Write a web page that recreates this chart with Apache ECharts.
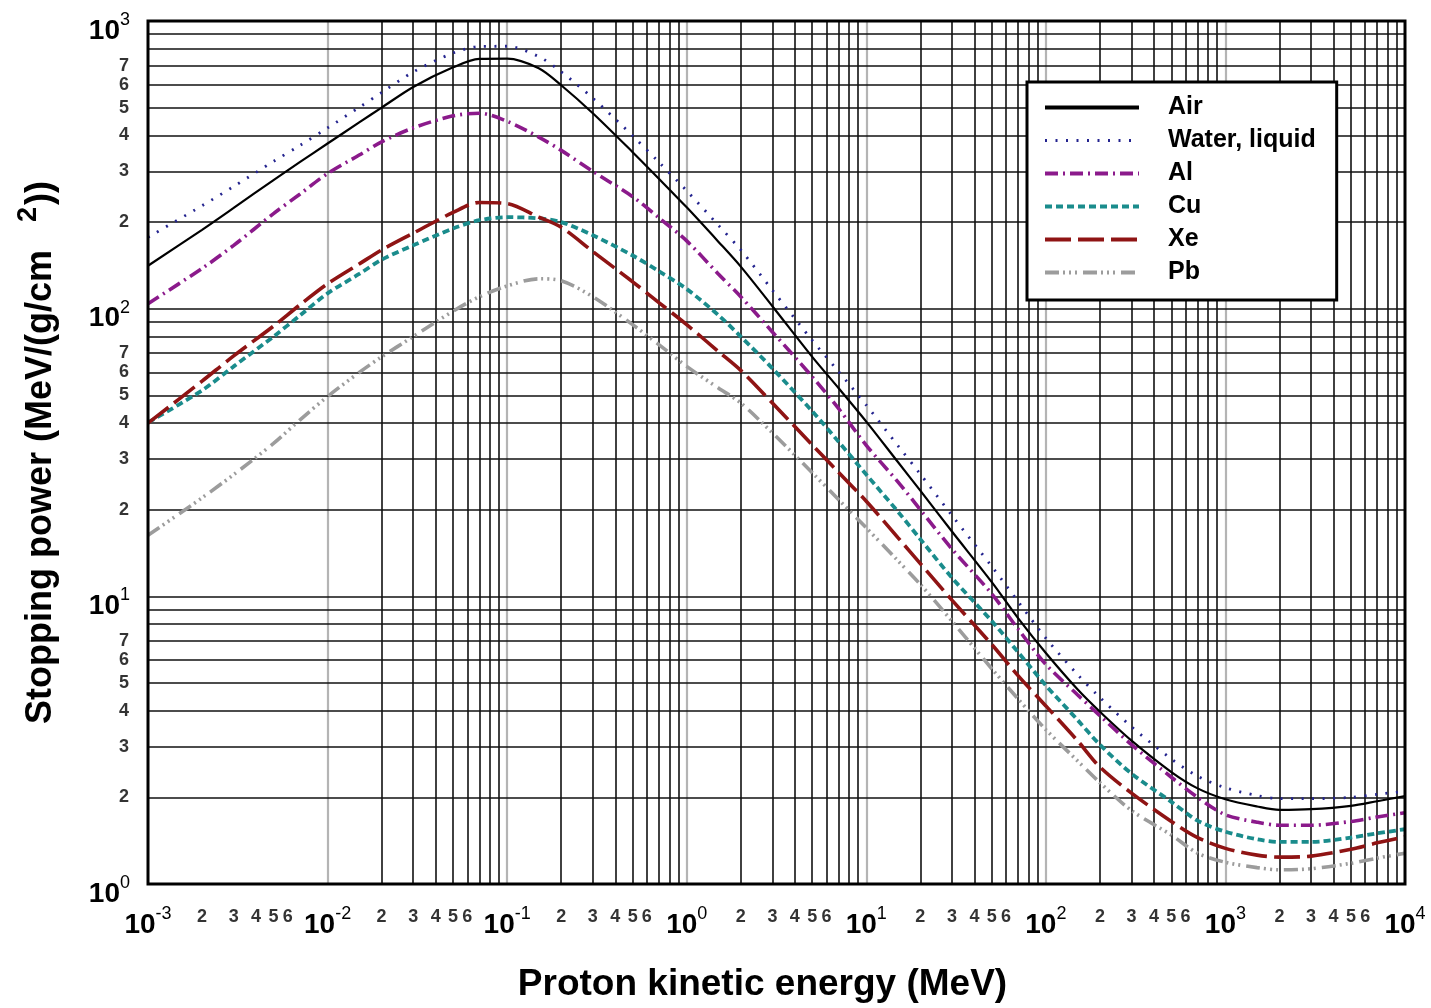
<!DOCTYPE html>
<html><head><meta charset="utf-8">
<script src="https://cdn.jsdelivr.net/npm/echarts@6/dist/echarts.min.js"></script>
<style>html,body{margin:0;padding:0;background:#fff}#c{width:1431px;height:1008px}</style>
</head><body><div id="c"></div>
<script>
// Proton kinetic energy (MeV)
const energies = [0.001, 0.002, 0.003, 0.005, 0.007, 0.01, 0.015, 0.02, 0.03, 0.05, 0.07, 0.1, 0.15, 0.2, 0.3, 0.5, 0.7, 1, 1.5, 2, 3, 5, 7, 10, 15, 20, 30, 50, 70, 100, 150, 200, 300, 500, 700, 1000, 1500, 2000, 3000, 5000, 7000, 10000];
// Stopping power (MeV/(g/cm2))
const air   = [141, 188, 224, 280, 323, 375, 444, 500, 590, 690, 738, 740, 685, 598, 478, 350, 283, 225, 171, 140, 102, 68, 53, 40.5, 29.3, 23.3, 16.8, 11.2, 8.4, 6.35, 4.75, 3.97, 3.15, 2.45, 2.15, 1.97, 1.86, 1.81, 1.82, 1.87, 1.94, 2.02];
const water = [177, 228, 266, 325, 369, 425, 501, 564, 665, 774, 815, 817, 752, 666, 539, 399, 323, 257, 195, 160, 116, 77.6, 60.5, 46.2, 33.4, 26.6, 19.1, 12.7, 9.6, 7.15, 5.35, 4.45, 3.52, 2.72, 2.37, 2.16, 2.03, 1.98, 1.98, 2.0, 2.05, 2.1];
const al    = [104, 138, 166, 214, 250, 295, 342, 380, 425, 468, 478, 448, 395, 355, 300, 245, 207, 172, 132, 110, 83, 58, 45, 33.5, 25, 20, 14.6, 10.2, 7.7, 5.8, 4.55, 3.85, 3.05, 2.35, 2.0, 1.74, 1.64, 1.60, 1.60, 1.65, 1.71, 1.77];
const cu    = [40.2, 52, 63, 80, 94.6, 113, 132, 148, 166, 190, 203, 208, 206, 200, 180, 153, 135, 117, 95, 80, 62, 44, 34.5, 26.5, 19.7, 15.8, 11.6, 8.2, 6.4, 4.9, 3.72, 3.05, 2.42, 1.93, 1.66, 1.52, 1.43, 1.40, 1.40, 1.45, 1.50, 1.55];
const xe    = [40, 56, 68.5, 87, 103, 122, 143, 160, 183, 216, 234, 232, 208, 192, 158, 124, 105, 88, 71, 61, 47, 33.6, 27, 21.4, 16, 13, 9.7, 6.8, 5.3, 4.16, 3.15, 2.55, 2.07, 1.65, 1.45, 1.33, 1.26, 1.24, 1.25, 1.32, 1.39, 1.46];
const pb    = [16.3, 22, 26.5, 34, 41, 49.5, 60, 68, 80, 98, 110, 120, 127, 125, 110, 88, 75, 63, 53, 47, 37, 26.9, 21.7, 17.3, 13.3, 11, 8.2, 5.6, 4.4, 3.44, 2.68, 2.25, 1.8, 1.48, 1.28, 1.19, 1.14, 1.12, 1.13, 1.18, 1.23, 1.28];

const seriesNames = ['Air', 'Water, liquid', 'Al', 'Cu', 'Xe', 'Pb'];

// tick / grid definitions
const xDecades = [-3, -2, -1, 0, 1, 2, 3, 4];
const yDecades = [0, 1, 2, 3];
const xMinorDigits = [2, 3, 4, 5, 6];
const yMinorDigits = [2, 3, 4, 5, 6, 7];
const gridDigits = [2, 3, 4, 5, 6, 7, 8, 9];

const FONT = "'Liberation Sans', Arial, Helvetica, sans-serif";

const vLines = [];
xDecades.slice(0, -1).forEach(k => gridDigits.forEach(m => vLines.push({ xAxis: m * Math.pow(10, k) })));
xDecades.slice(1, -1).forEach(k => vLines.push({ xAxis: Math.pow(10, k), lineStyle: { color: '#b4b4b4', width: 2.2, type: 'solid' } }));
const hLines = [];
yDecades.slice(0, -1).forEach(k => gridDigits.forEach(m => hLines.push({ yAxis: m * Math.pow(10, k) })));
yDecades.slice(1, -1).forEach(k => hLines.push({ yAxis: Math.pow(10, k) }));

const xMinorLabels = [];
xDecades.slice(0, -1).forEach(k => xMinorDigits.forEach(m => xMinorLabels.push([m * Math.pow(10, k), 1, String(m)])));
const yMinorLabels = [];
yDecades.slice(0, -1).forEach(k => yMinorDigits.forEach(m => yMinorLabels.push([0.001, m * Math.pow(10, k), String(m)])));

function curve(name, vals, color, width, dash) {
  return {
    name, type: 'line', data: energies.map((e, i) => [e, vals[i]]),
    smooth: 0.3, symbol: 'none', z: 4, clip: true,
    lineStyle: { color, width, type: dash, cap: 'butt' },
    itemStyle: { color }
  };
}

const legendWidths = [4, 3, 4, 4, 4, 4];

const chart = echarts.init(document.getElementById('c'), null, { renderer: 'canvas' });
chart.setOption({
  animation: false,
  backgroundColor: '#fff',
  grid: { left: 148, right: 26, top: 21, bottom: 124, show: true, borderColor: '#000', borderWidth: 3, backgroundColor: 'transparent', z: 10 },
  xAxis: {
    type: 'log', logBase: 10, min: 0.001, max: 10000, splitNumber: 7,
    name: 'Proton kinetic energy (MeV)', nameLocation: 'middle', nameGap: 82,
    nameTextStyle: { fontFamily: FONT, fontSize: 37, fontWeight: 'bold', color: '#000', padding: [0, 28, 0, 0] },
    axisLine: { show: false }, axisTick: { show: false }, splitLine: { show: false },
    axisLabel: {
      margin: 21, color: '#000', fontFamily: FONT,
      formatter: v => '{b|10}{s|' + Math.round(Math.log10(v)) + '}',
      rich: {
        b: { fontFamily: FONT, fontSize: 28, fontWeight: 'bold', color: '#000' },
        s: { fontFamily: FONT, fontSize: 18, color: '#000', padding: [0, 0, 22, 0] }
      }
    }
  },
  yAxis: {
    type: 'log', logBase: 10, min: 1, max: 1000, splitNumber: 3,
    name: '{a|Stopping power (MeV/(g/cm}{s|2}{a|))}', nameLocation: 'middle', nameGap: 80, nameRotate: 90,
    nameTextStyle: {
      rich: {
        a: { fontFamily: FONT, fontSize: 36, fontWeight: 'bold', color: '#000' },
        s: { fontFamily: FONT, fontSize: 27, fontWeight: 'bold', color: '#000', padding: [0, 2, 26, 28] }
      }
    },
    axisLine: { show: false }, axisTick: { show: false }, splitLine: { show: false },
    axisLabel: {
      margin: 18, color: '#000', fontFamily: FONT,
      formatter: v => '{b|10}{s|' + Math.round(Math.log10(v)) + '}',
      rich: {
        b: { fontFamily: FONT, fontSize: 28, fontWeight: 'bold', color: '#000', padding: [20, 0, 0, 0] },
        s: { fontFamily: FONT, fontSize: 18, color: '#000', padding: [0, 0, 2, 0] }
      }
    }
  },
  legend: {
    data: seriesNames.map((n, i) => ({ name: n, lineStyle: { width: legendWidths[i] } })),
    orient: 'vertical', left: 1027, top: 82,
    padding: [13, 21, 15, 16], itemGap: 8, itemWidth: 94, itemHeight: 14,
    backgroundColor: '#fff', borderColor: '#000', borderWidth: 3, borderRadius: 0,
    itemStyle: { opacity: 0 },
    lineStyle: { width: 'inherit', type: 'inherit', cap: 'butt' },
    textStyle: { fontFamily: FONT, fontSize: 25, fontWeight: 'bold', color: '#000', lineHeight: 24, padding: [0, 0, 0, 24] },
    z: 20
  },
  series: [
    {
      name: 'grid', type: 'line', data: [], symbol: 'none', silent: true, z: 1,
      markLine: {
        silent: true, symbol: ['none', 'none'], z: 1, animation: false,
        label: { show: false },
        lineStyle: { color: '#111', width: 1.6, type: 'solid' },
        emphasis: { disabled: true },
        data: vLines.concat(hLines)
      }
    },
    curve('Air', air, '#000000', 2.2, 'solid'),
    curve('Water, liquid', water, '#24248f', 2.8, [2, 8.5]),
    curve('Al', al, '#8b1a8b', 3.6, [13, 5, 2, 5]),
    curve('Cu', cu, '#1a8c8c', 3.8, [7, 4]),
    curve('Xe', xe, '#8f1414', 3.6, [26, 7]),
    curve('Pb', pb, '#9c9c9c', 3.6, [14, 4, 2, 4, 2, 4, 2, 6]),
    {
      name: 'xminor', type: 'scatter', symbolSize: 0, clip: false, silent: true,
      data: xMinorLabels,
      label: { show: true, position: 'bottom', distance: 24, formatter: p => p.data[2], fontFamily: FONT, fontSize: 18, fontWeight: 'bold', color: '#000' }
    },
    {
      name: 'yminor', type: 'scatter', symbolSize: 0, clip: false, silent: true,
      data: yMinorLabels,
      label: { show: true, position: 'left', distance: 19, formatter: p => p.data[2], fontFamily: FONT, fontSize: 18, fontWeight: 'bold', color: '#000' }
    }
  ]
});
</script></body></html>
